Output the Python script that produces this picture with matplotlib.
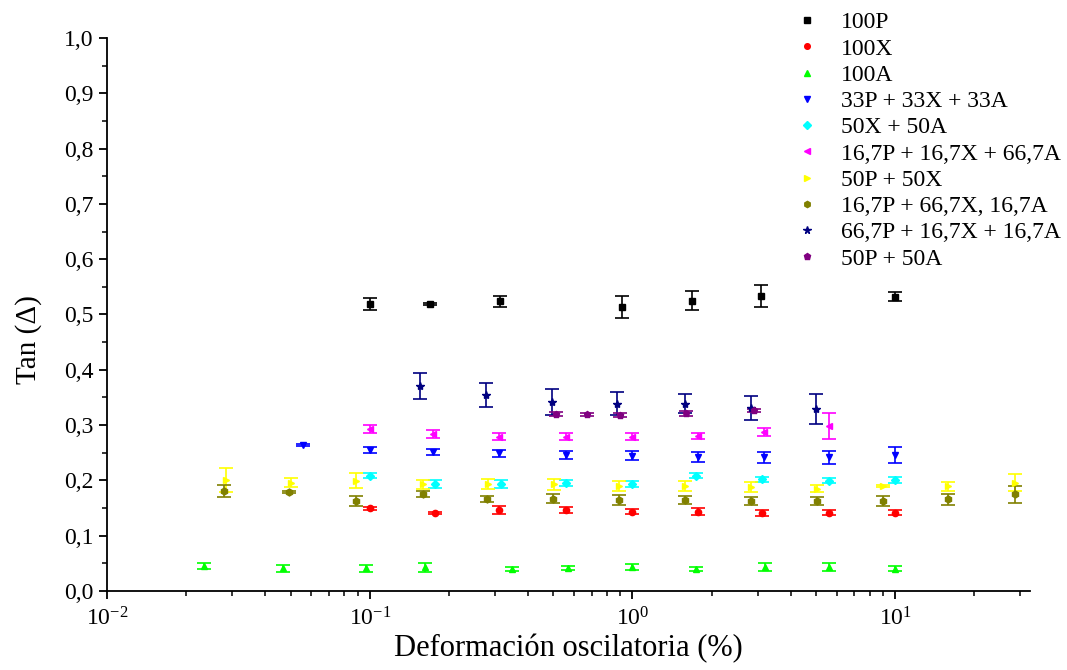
import numpy as np
import matplotlib
matplotlib.use("Agg")
import matplotlib.pyplot as plt
from matplotlib.ticker import LogLocator, MultipleLocator, FuncFormatter

plt.rcParams['font.family'] = ['Liberation Serif', 'DejaVu Serif']
plt.rcParams['mathtext.fontset'] = 'custom'
plt.rcParams['mathtext.rm'] = 'Liberation Serif'
plt.rcParams['mathtext.it'] = 'Liberation Serif:italic'

# series data: strain (%), tan(delta), error
x_100P = [0.1, 0.169, 0.312, 0.916, 1.69, 3.09, 10.0]
y_100P = [0.519, 0.519, 0.524, 0.514, 0.525, 0.534, 0.532]
e_100P = [0.010, 0.002, 0.010, 0.020, 0.017, 0.020, 0.008]

x_100X = [0.1, 0.177, 0.31, 0.56, 1.0, 1.77, 3.1, 5.6, 10.0]
y_100X = [0.1495, 0.1416, 0.1465, 0.1465, 0.1435, 0.1435, 0.1416, 0.1416, 0.1416]
e_100X = [0.003, 0.002, 0.0066, 0.0057, 0.005, 0.0066, 0.0057, 0.005, 0.005]

x_100A = [0.0234, 0.0467, 0.0965, 0.163, 0.347, 0.567, 1.0, 1.75, 3.2, 5.6, 10.0]
y_100A = [0.0452, 0.041, 0.041, 0.043, 0.0398, 0.0416, 0.0434, 0.0398, 0.044, 0.044, 0.0404]
e_100A = [0.005, 0.0066, 0.0066, 0.008, 0.003, 0.003, 0.005, 0.003, 0.0075, 0.0075, 0.004]

x_33 = [0.0556, 0.1, 0.174, 0.31, 0.56, 1.0, 1.77, 3.16, 5.6, 10.0]
y_33 = [0.264, 0.255, 0.2514, 0.249, 0.2466, 0.2447, 0.2417, 0.2417, 0.2417, 0.246]
e_33 = [0.002, 0.005, 0.005, 0.006, 0.007, 0.0087, 0.009, 0.0105, 0.0115, 0.015]

x_50X50A = [0.1, 0.177, 0.317, 0.56, 1.0, 1.75, 3.1, 5.6, 10.0]
y_50X50A = [0.2086, 0.1935, 0.193, 0.195, 0.193, 0.2086, 0.2019, 0.1995, 0.2007]
e_50X50A = [0.0045, 0.0066, 0.007, 0.0054, 0.0054, 0.004, 0.004, 0.005, 0.005]

x_167_167_667 = [0.1, 0.174, 0.31, 0.56, 1.0, 1.77, 3.16, 5.6]
y_167_167_667 = [0.2935, 0.284, 0.279, 0.279, 0.279, 0.28, 0.287, 0.298]
e_167_167_667 = [0.0075, 0.007, 0.006, 0.006, 0.006, 0.006, 0.007, 0.023]

x_50P50X = [0.0283, 0.050, 0.089, 0.159, 0.281, 0.505, 0.89, 1.59, 2.83, 5.05, 9.0, 15.9, 28.6]
y_50P50X = [0.2007, 0.196, 0.1995, 0.193, 0.1935, 0.193, 0.1905, 0.1893, 0.188, 0.185, 0.19, 0.189, 0.196]
e_50P50X = [0.021, 0.008, 0.013, 0.008, 0.009, 0.010, 0.009, 0.0093, 0.009, 0.006, 0.002, 0.008, 0.016]

x_167_667_167 = [0.028, 0.0495, 0.089, 0.159, 0.28, 0.5, 0.89, 1.59, 2.83, 5.05, 9.0, 15.9, 28.5]
y_167_667_167 = [0.181, 0.179, 0.163, 0.175, 0.1664, 0.167, 0.1646, 0.164, 0.163, 0.1628, 0.163, 0.1658, 0.175]
e_167_667_167 = [0.0103, 0.002, 0.0085, 0.005, 0.005, 0.008, 0.009, 0.0075, 0.0075, 0.008, 0.0085, 0.0096, 0.015]

x_667 = [0.156, 0.276, 0.492, 0.877, 1.58, 2.83, 5.0]
y_667 = [0.371, 0.354, 0.342, 0.339, 0.339, 0.331, 0.329]
e_667 = [0.023, 0.022, 0.023, 0.021, 0.018, 0.022, 0.027]

x_50P50A = [0.51, 0.674, 0.9, 1.6, 2.91]
y_50P50A = [0.320, 0.3195, 0.318, 0.321, 0.327]
e_50P50A = [0.004, 0.003, 0.003, 0.004, 0.003]

labels = ["100P", "100X", "100A", "33P + 33X + 33A", "50X + 50A",
          "16,7P + 16,7X + 66,7A", "50P + 50X", "16,7P + 66,7X, 16,7A",
          "66,7P + 16,7X + 16,7A", "50P + 50A"]

series = [
    (x_100P, y_100P, e_100P, '#000000', 's', 4.5),
    (x_100X, y_100X, e_100X, '#FF0000', 'o', 4.5),
    (x_100A, y_100A, e_100A, '#00FF00', '^', 5),
    (x_33, y_33, e_33, '#0000FF', 'v', 5),
    (x_50X50A, y_50X50A, e_50X50A, '#00FFFF', 'D', 4),
    (x_167_167_667, y_167_167_667, e_167_167_667, '#FF00FF', '<', 5),
    (x_50P50X, y_50P50X, e_50P50X, '#FFFF00', '>', 5),
    (x_167_667_167, y_167_667_167, e_167_667_167, '#808000', 'h', 5),
    (x_667, y_667, e_667, '#000080', '*', 6),
    (x_50P50A, y_50P50A, e_50P50A, '#800080', 'p', 5),
]

fig = plt.figure(figsize=(10.67, 6.70), dpi=100)
ax = fig.add_axes([0.1003, 0.1179, 0.8650, 0.8254])

handles = []
for (xs, ys, es, col, mk, ms), lab in zip(series, labels):
    c = ax.errorbar(xs, ys, yerr=es, fmt=mk, color=col, ms=ms,
                    elinewidth=1.2, capsize=5, capthick=1.2, label=lab)
    handles.append(c[0])

ax.set_xscale('log')
ax.set_xlim(0.01, 32.6)
ax.set_ylim(0, 1.0)
ax.yaxis.set_major_locator(MultipleLocator(0.1))
ax.yaxis.set_minor_locator(MultipleLocator(0.05))
ax.yaxis.set_major_formatter(FuncFormatter(lambda v, p: f"{v:.1f}".replace('.', ',')))
ax.xaxis.set_major_locator(LogLocator(base=10))
ax.xaxis.set_minor_locator(LogLocator(base=10, subs=np.arange(2, 10)))

for s in ['top', 'right']:
    ax.spines[s].set_visible(False)
for s in ['left', 'bottom']:
    ax.spines[s].set_linewidth(1.3)

ax.tick_params(which='major', direction='out', length=6, width=1.3, labelsize=17, pad=4)
ax.tick_params(axis='x', which='major', pad=6)
ax.tick_params(which='minor', direction='out', length=3.5, width=1.1)

ax.set_xlabel("Deformación oscilatoria (%)", fontsize=22, labelpad=2)
ax.set_ylabel("Tan (Δ)", fontsize=21)
ax.yaxis.set_label_coords(-0.070, 0.454)

fig.legend(handles=handles, labels=labels, loc='upper left',
           bbox_to_anchor=(0.734, 1.0), frameon=False, fontsize=17,
           labelspacing=0.2, handletextpad=0.95, handlelength=1.0,
           markerscale=0.9, borderaxespad=0.1)

fig.savefig("out.png", dpi=100)
